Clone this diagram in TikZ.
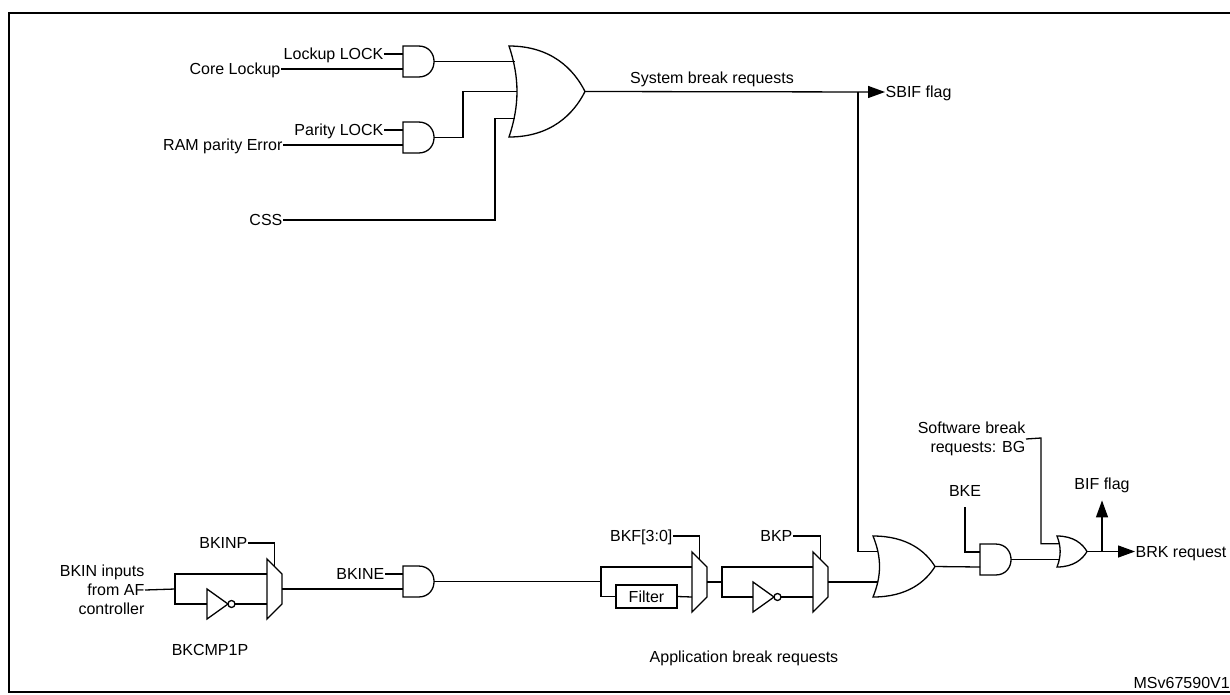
\documentclass[tikz,border=0pt]{standalone}
\usepackage{fontspec}
\setmainfont{Liberation Sans}
\usetikzlibrary{arrows.meta}

% gate symbols, top-left corner given, y grows downwards
\newcommand{\andgate}[3]{%
  \draw[gate] (#2,#3) -- ({#2+15.5},#3) .. controls ({#2+36.2},#3) and ({#2+36.2},{#3+31}) .. ({#2+15.5},{#3+31}) -- (#2,{#3+31}) -- cycle;
  \coordinate (#1-i1) at (#2,{#3+8});
  \coordinate (#1-i2) at (#2,{#3+23});
  \coordinate (#1-o) at ({#2+31},{#3+15.5});}
\newcommand{\orgate}[5]{%
  \draw[gate] (#2,#3) .. controls ({#2+0.55*#4},#3) and ({#2+0.85*#4},{#3+0.25*#5}) .. ({#2+#4},{#3+0.5*#5})
    .. controls ({#2+0.85*#4},{#3+0.75*#5}) and ({#2+0.55*#4},{#3+#5}) .. (#2,{#3+#5})
    .. controls ({#2+0.14*#4},{#3+0.65*#5}) and ({#2+0.14*#4},{#3+0.35*#5}) .. cycle;
  \coordinate (#1-a) at ({#2+0.08*#4},{#3+0.2*#5});
  \coordinate (#1-m) at ({#2+0.105*#4},{#3+0.5*#5});
  \coordinate (#1-b) at ({#2+0.08*#4},{#3+0.8*#5});
  \coordinate (#1-p) at ({#2+0.085*#4},{#3+0.25*#5});
  \coordinate (#1-q) at ({#2+0.085*#4},{#3+0.75*#5});
  \coordinate (#1-o) at ({#2+#4},{#3+0.5*#5});}
\newcommand{\muxgate}[3]{%
  \draw[gate] (#2,#3) -- ({#2+15},{#3+15}) -- ({#2+15},{#3+45}) -- (#2,{#3+60}) -- cycle;
  \coordinate (#1-a) at (#2,{#3+15});
  \coordinate (#1-b) at (#2,{#3+45});
  \coordinate (#1-s) at ({#2+7.5},{#3+7.5});
  \coordinate (#1-o) at ({#2+15},{#3+30});}
\newcommand{\notgate}[3]{%
  \draw[gate] (#2,#3) -- ({#2+21},{#3+15}) -- (#2,{#3+30}) -- cycle;
  \draw[gate] ({#2+24.5},{#3+15}) circle (3.5);
  \coordinate (#1-i) at (#2,{#3+15});
  \coordinate (#1-o) at ({#2+28},{#3+15});}

\begin{document}
\begin{tikzpicture}[x=1pt,y=-1pt,line width=1.3pt,
  gate/.style={line width=1.3pt},
  lbl/.style={inner sep=0pt,text height=11.5pt,text depth=0pt,font=\fontsize{16}{19}\selectfont},
  mlbl/.style={inner sep=0pt,align=right,font=\fontsize{16}{19}\selectfont},
  arr/.style={-{Triangle[length=17pt,width=12pt]}}]
\useasboundingbox (0,0) rectangle (1230,694);
\draw[line width=2.5pt] (9,13) rectangle (1245,692);
% system break part
\andgate{and1}{403}{46}
\andgate{and2}{403}{122}
\orgate{or1}{509}{46}{76}{91}
\node[lbl,anchor=east] (lockup) at (384,54) {Lockup LOCK};
\node[lbl,anchor=east] (core) at (281,69) {Core Lockup};
\node[lbl,anchor=east] (parity) at (384,130) {Parity LOCK};
\node[lbl,anchor=east] (ram) at (283,145) {RAM parity Error};
\node[lbl,anchor=east] (css) at (283,220) {CSS};
\coordinate (cssj) at (495,220);
\draw (lockup.east) -- (and1-i1);
\draw (core.east) -- (and1-i2);
\draw (parity.east) -- (and2-i1);
\draw (ram.east) -- (and2-i2);
\draw (and1-o) -- (or1-a |- and1-o);
\draw (and2-o) -- ++(29,0) |- (or1-m);
\draw (css.east) -- (cssj) |- (or1-b);
\node[lbl] (sysbrk) at (712,78) {System break requests};
\node[lbl,anchor=west] (sbif) at (885,92) {SBIF flag};
\coordinate (jn) at (858,91.5);
\draw[arr] (or1-o) -- (sbif.west);
% application break part
\node[mlbl,anchor=east] (bkin) at (145,590) {BKIN inputs\\from AF\\controller};
\coordinate (split1) at (175,589);
\notgate{not1}{207}{589}
\muxgate{mux1}{267}{559}
\node[lbl,anchor=east] (bkinp) at (248,543) {BKINP};
\node[lbl] (bkcmp) at (210,650) {BKCMP1P};
\draw (bkin.east) -- (split1);
\draw (split1) |- (mux1-a);
\draw (split1) |- (not1-i);
\draw (not1-o) -- (mux1-b);
\draw (bkinp.east) -| (mux1-s);
\andgate{and4}{403}{566}
\node[lbl,anchor=east] (bkine) at (385,574) {BKINE};
\draw (bkine.east) -- (and4-i1);
\draw (mux1-o) -- (and4-i2);
\coordinate (split2) at (601,581.5);
\node[draw,lbl,minimum width=61pt,minimum height=23pt,text height=11.5pt,inner sep=0pt] (filter) at (646.5,596.5) {Filter};
\muxgate{mux2}{692}{552}
\node[lbl,anchor=east] (bkf) at (673,536) {BKF[3:0]};
\draw (and4-o) -- (split2);
\draw (split2) |- (mux2-a);
\draw (split2) |- (filter.west);
\draw (filter.east) -- (mux2-b);
\draw (bkf.east) -| (mux2-s);
\coordinate (split3) at (722,582);
\notgate{not2}{753}{582}
\muxgate{mux3}{813}{552}
\node[lbl,anchor=east] (bkp) at (793,536) {BKP};
\draw (mux2-o) -- (split3);
\draw (split3) |- (mux3-a);
\draw (split3) |- (not2-i);
\draw (not2-o) -- (mux3-b);
\draw (bkp.east) -| (mux3-s);
\node[lbl] (appbrk) at (744,657) {Application break requests};
% break output
\orgate{or3}{873}{536}{62}{61}
\draw (jn) |- (or3-p);
\draw (mux3-o) -- (or3-q |- mux3-o);
\andgate{and3}{980}{544}
\node[lbl] (bke) at (965,491) {BKE};
\draw ([yshift=-10pt]bke.south) |- (and3-i1);
\draw (or3-o) -- (and3-i2);
\orgate{or4}{1057}{536}{30}{31}
\node[mlbl,anchor=east] (soft) at (1026,439) {Software break\\requests: BG};
\coordinate (softj) at (1041,438);
\draw (soft.east) -- (softj) |- (or4-p);
\draw (and3-o) -- (or4-q |- and3-o);
\node[lbl,anchor=west] (brk) at (1135,551.5) {BRK request};
\node[lbl] (bif) at (1102,484) {BIF flag};
\coordinate (bifj) at (1102,551.5);
\draw[arr] (or4-o) -- (brk.west);
\draw[arr] (bifj) -- ([yshift=-10pt]bif.south);
\node[lbl,anchor=west] (msv) at (1133,683) {MSv67590V1};
\end{tikzpicture}
\end{document}
